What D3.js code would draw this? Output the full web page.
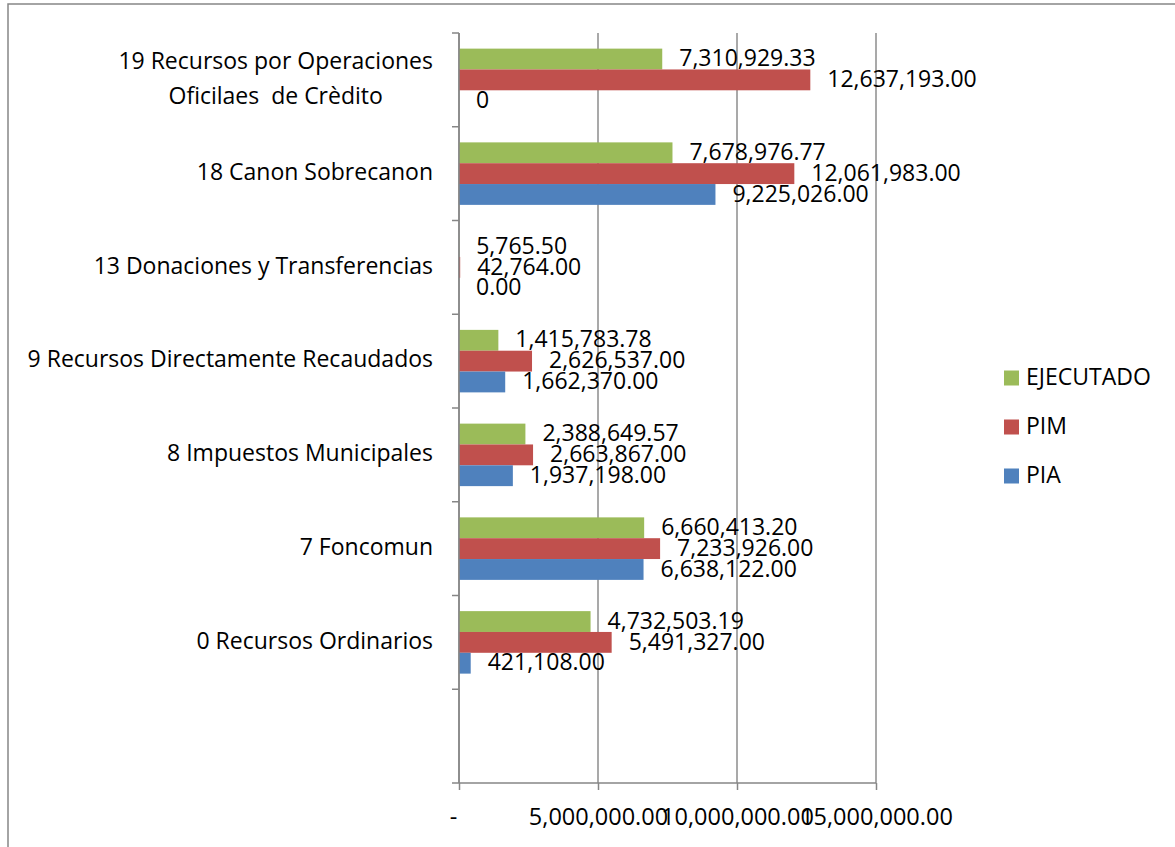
<!DOCTYPE html>
<html>
<head>
<meta charset="utf-8">
<script src="https://cdn.jsdelivr.net/npm/d3@7"></script>
<style>
  html, body { margin: 0; padding: 0; background: #fff; }
  text { font-family: "Open Sans", Lato, sans-serif; fill: #000; }
</style>
</head>
<body>
<div id="chart"></div>
<script>
// fuentes de financiamiento (de arriba hacia abajo); la última categoría está vacía
const categories = [
    "19 Recursos por Operaciones\nOficilaes  de Crèdito",
    "18 Canon Sobrecanon",
    "13 Donaciones y Transferencias",
    "9 Recursos Directamente Recaudados",
    "8 Impuestos Municipales",
    "7 Foncomun",
    "0 Recursos Ordinarios",
    ""
];
const series = ["EJECUTADO", "PIM", "PIA"];
const ejecutado = [7310929.33, 7678976.77, 5765.50, 1415783.78, 2388649.57, 6660413.20, 4732503.19, null];
const pim = [12637193, 12061983, 42764, 2626537, 2663867, 7233926, 5491327, null];
const pia = [0, 9225026, 0, 1662370, 1937198, 6638122, 421108, null];
// la etiqueta de PIA en la primera categoría aparece como "0"
const piaLabels = ["0", null, null, null, null, null, null, null];
const xTicks = [0, 5000000, 10000000, 15000000];

const colors = { EJECUTADO: "#9BBB59", PIM: "#C0504D", PIA: "#4F81BD" };
const values = { EJECUTADO: ejecutado, PIM: pim, PIA: pia };

function renderChart() {
    const width = 1175;
    const height = 847;
    const plot = { left: 459, right: 876, top: 33, bottom: 783 };
    const fmt = d3.format(",.2f");
    const fs = "23px";

    const svg = d3.select("#chart").append("svg")
        .attr("width", width)
        .attr("height", height);

    // marco exterior
    svg.append("rect")
        .attr("x", 8).attr("y", 4)
        .attr("width", width + 20).attr("height", height + 20)
        .attr("fill", "none")
        .attr("stroke", "#868686")
        .attr("stroke-width", 1.5);

    const x = d3.scaleLinear()
        .domain([0, 15000000])
        .range([plot.left, plot.right]);

    const y = d3.scaleBand()
        .domain(categories)
        .range([plot.top, plot.bottom]);

    const inner = d3.scaleBand()
        .domain(series)
        .range([0, y.bandwidth()])
        .paddingOuter(0.75);

    // líneas de cuadrícula
    svg.append("g")
        .selectAll("line")
        .data(xTicks)
        .enter()
        .append("line")
        .attr("x1", d => x(d)).attr("x2", d => x(d))
        .attr("y1", plot.top).attr("y2", plot.bottom)
        .attr("stroke", "#8c8c8c")
        .attr("stroke-width", 1.5);

    // barras
    const rows = [];
    categories.forEach((c, i) => {
        series.forEach(s => {
            const v = values[s][i];
            if (v == null) return;
            let label = fmt(v);
            if (s === "PIA" && piaLabels[i]) label = piaLabels[i];
            rows.push({ cat: c, s: s, v: v, label: label });
        });
    });

    svg.append("g")
        .selectAll("rect")
        .data(rows)
        .enter()
        .append("rect")
        .attr("x", x(0))
        .attr("y", d => y(d.cat) + inner(d.s))
        .attr("width", d => x(d.v) - x(0))
        .attr("height", inner.bandwidth())
        .attr("fill", d => colors[d.s]);

    // etiquetas de datos
    svg.append("g")
        .selectAll("text")
        .data(rows)
        .enter()
        .append("text")
        .attr("x", d => x(d.v) + 17)
        .attr("y", d => y(d.cat) + inner(d.s) + inner.bandwidth() / 2 + 1)
        .attr("dominant-baseline", "middle")
        .style("font-size", fs)
        .text(d => d.label);

    // eje X
    const xAxis = svg.append("g")
        .attr("transform", `translate(0,${plot.bottom})`)
        .call(d3.axisBottom(x)
            .tickValues(xTicks)
            .tickSize(7)
            .tickPadding(18)
            .tickFormat(d => d === 0 ? "-" : fmt(d)));
    xAxis.selectAll("path, line").attr("stroke", "#868686").attr("stroke-width", 1.5);
    xAxis.select(".domain").attr("d", `M${plot.left},0H${plot.right}`);
    xAxis.selectAll("text").style("font-size", "23.5px").attr("fill", "#000");
    xAxis.selectAll(".tick").filter(d => d === 0).select("text").attr("dx", -6);

    // eje Y
    const yAxis = svg.append("g");
    yAxis.append("line")
        .attr("x1", plot.left).attr("x2", plot.left)
        .attr("y1", plot.top).attr("y2", plot.bottom)
        .attr("stroke", "#868686").attr("stroke-width", 1.5);
    yAxis.selectAll("line.tk")
        .data(categories.map(c => y(c)).concat([plot.bottom]))
        .enter()
        .append("line")
        .attr("class", "tk")
        .attr("x1", plot.left - 7).attr("x2", plot.left)
        .attr("y1", d => d).attr("y2", d => d)
        .attr("stroke", "#868686").attr("stroke-width", 1.5);

    const catLabels = yAxis.selectAll("text.cat")
        .data(categories.filter(c => c !== ""))
        .enter()
        .append("text")
        .attr("class", "cat")
        .style("font-size", fs)
        .attr("xml:space", "preserve")
        .attr("text-anchor", "middle");

    catLabels.each(function (c) {
        const lines = c.split("\n");
        const t = d3.select(this);
        const cy = y(c) + y.bandwidth() / 2;
        const lh = 35;
        lines.forEach((ln, k) => {
            t.append("tspan")
                .attr("x", 0)
                .attr("y", cy + (k - (lines.length - 1) / 2) * lh)
                .attr("dominant-baseline", "middle")
                .text(ln);
        });
        const w = this.getBBox().width;
        t.selectAll("tspan").attr("x", 433 - w / 2);
    });

    // leyenda
    const legend = svg.append("g")
        .selectAll("g")
        .data(series)
        .enter()
        .append("g")
        .attr("transform", (d, i) => `translate(1004,${378 + i * 49})`);
    legend.append("rect")
        .attr("x", 0).attr("y", -7.5)
        .attr("width", 15).attr("height", 15)
        .attr("fill", d => colors[d]);
    legend.append("text")
        .attr("x", 22).attr("y", 1)
        .attr("dominant-baseline", "middle")
        .style("font-size", fs)
        .text(d => d);
}

renderChart();
</script>
</body>
</html>
